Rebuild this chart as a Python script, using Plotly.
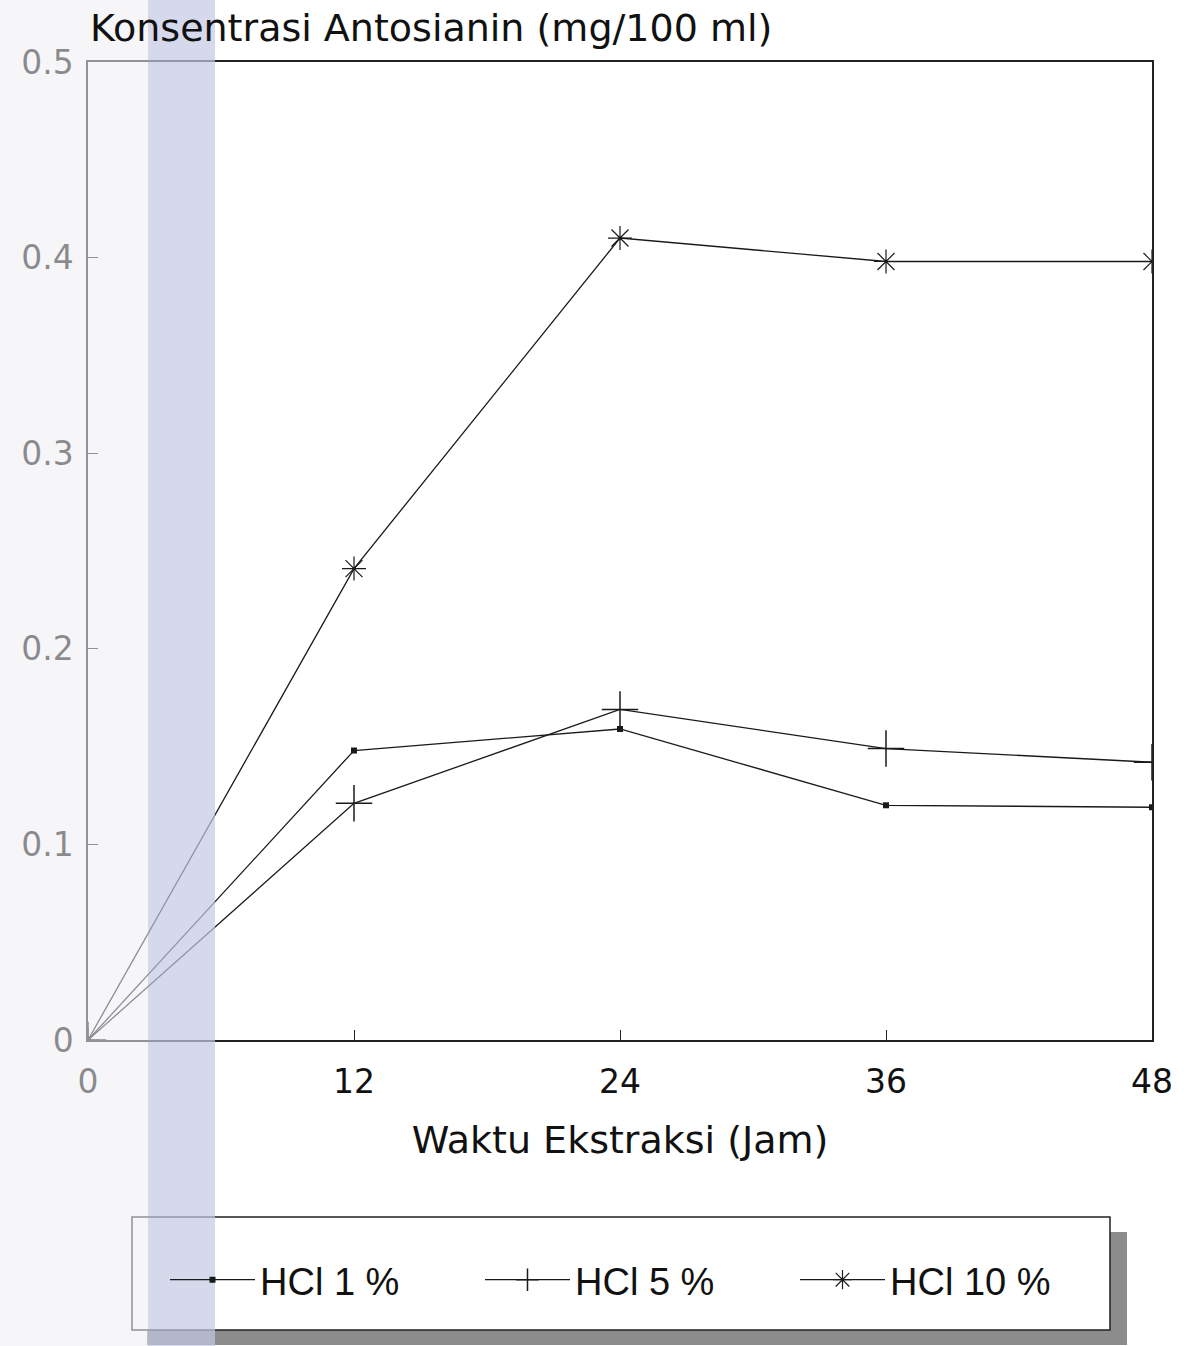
import plotly.graph_objects as go

hours = [0, 12, 24, 36, 48]
hcl1 = [0, 0.148, 0.159, 0.120, 0.119]
hcl5 = [0, 0.121, 0.169, 0.149, 0.142]
hcl10 = [0, 0.241, 0.410, 0.398, 0.398]
series_names = ["HCl 1 %", "HCl 5 %", "HCl 10 %"]
x_ticks = [0, 12, 24, 36, 48]
y_ticks = [0, 0.1, 0.2, 0.3, 0.4, 0.5]
y_tick_labels = ["0", "0.1", "0.2", "0.3", "0.4", "0.5"]

W, H = 1187, 1346
L, R, T, B = 88, 35, 62, 306
PW, PH = W - L - R, H - T - B

def px(x):
    return (x - L) / PW

def py(y):
    return (H - B - y) / PH

FONT = "DejaVu Sans"
fig = go.Figure()
line = dict(color="#1a1a1a", width=1.3)
fig.add_trace(go.Scatter(x=hours, y=hcl1, name=series_names[0], mode="lines+markers",
                         line=line, marker=dict(symbol="square", size=6, color="#1a1a1a")))
fig.add_trace(go.Scatter(x=hours, y=hcl5, name=series_names[1], mode="lines+markers",
                         line=line, marker=dict(symbol="cross-thin", size=26,
                                                line=dict(color="#1a1a1a", width=1.5))))
fig.add_trace(go.Scatter(x=hours, y=hcl10, name=series_names[2], mode="lines+markers",
                         line=line, marker=dict(symbol="asterisk-open", size=20,
                                                line=dict(color="#1a1a1a", width=1.2))))

shapes = [
    # legend shadow
    dict(type="rect", xref="paper", yref="paper", x0=px(147), x1=px(1127), y0=py(1345), y1=py(1232),
         fillcolor="#8c8c8c", line=dict(width=0), layer="above"),
    # legend box
    dict(type="rect", xref="paper", yref="paper", x0=px(132), x1=px(1110), y0=py(1330), y1=py(1217),
         fillcolor="white", line=dict(color="#222", width=1.5), layer="above"),
    # faded scan area on the left
    dict(type="rect", xref="paper", yref="paper", x0=px(0), x1=px(148), y0=py(H), y1=py(0),
         fillcolor="rgba(238,238,244,0.55)", line=dict(width=0), layer="above"),
    dict(type="rect", xref="paper", yref="paper", x0=px(148), x1=px(215), y0=py(H), y1=py(0),
         fillcolor="rgba(196,200,226,0.7)", line=dict(width=0), layer="above"),
]

fig.update_layout(
    width=W, height=H,
    margin=dict(l=L, r=R, t=T, b=B),
    paper_bgcolor="white", plot_bgcolor="white",
    font=dict(family=FONT, size=32, color="#111"),
    xaxis=dict(range=[0, 48], tickvals=x_ticks, ticks="inside", ticklen=10, tickwidth=1.3,
               tickcolor="#222", showline=True, linecolor="#222", linewidth=1.5, mirror=True,
               showgrid=False, zeroline=False, ticklabelstandoff=12,
               tickfont=dict(family=FONT, size=33, color="#111"),
               title=dict(text="Waktu Ekstraksi (Jam)", font=dict(family=FONT, size=38, color="#111"),
                          standoff=26)),
    yaxis=dict(range=[0, 0.5], tickvals=y_ticks, ticktext=y_tick_labels, ticks="inside", ticklen=10,
               tickwidth=1.3, tickcolor="#222", showline=True, linecolor="#222", linewidth=1.5,
               mirror=True, showgrid=False, zeroline=False, ticklabelstandoff=6,
               tickfont=dict(family=FONT, size=33, color="#111")),
    showlegend=True,
    legend=dict(orientation="h", x=px(165), y=py(1280), xanchor="left", yanchor="middle",
                bgcolor="rgba(0,0,0,0)", borderwidth=0, entrywidth=215, entrywidthmode="pixels",
                font=dict(family="Liberation Sans", size=38, color="#111"), itemwidth=85),
    shapes=shapes,
    annotations=[dict(text="Konsentrasi Antosianin (mg/100 ml)", xref="paper", yref="paper",
                      x=0, y=py(28), xanchor="left", yanchor="middle", showarrow=False,
                      font=dict(family=FONT, size=38, color="#111"))],
)

fig.write_html("out.html", config={"displayModeBar": False},
               post_script="document.body.style.margin='0';")
